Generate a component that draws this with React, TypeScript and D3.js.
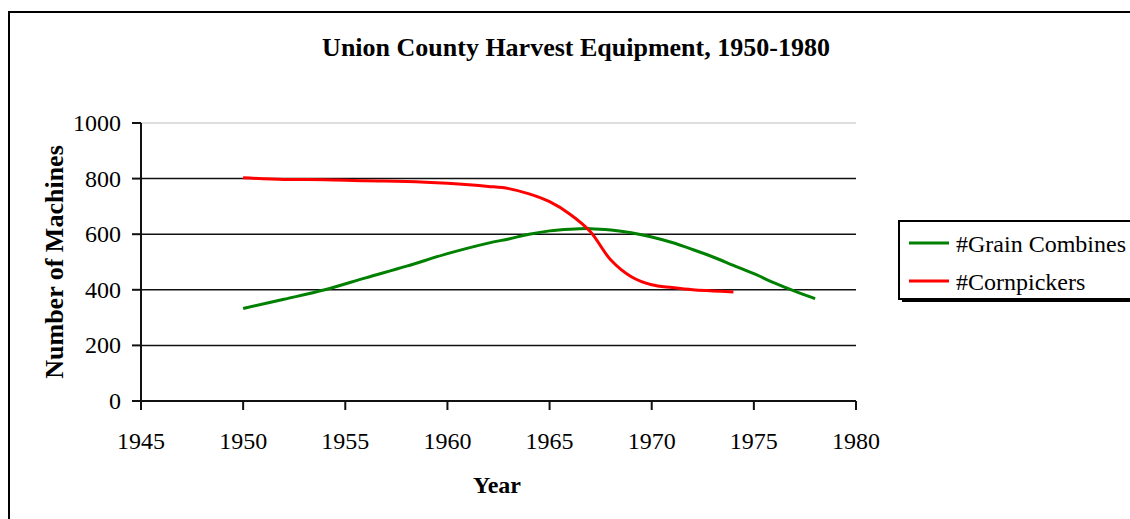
import React from "react";
import * as d3 from "d3";

const combineYears = [1950, 1952, 1954, 1956, 1958, 1960, 1962, 1963, 1964, 1965, 1966, 1967, 1968, 1969, 1970, 1971, 1972, 1973, 1974, 1975, 1976, 1977, 1978];
const combineValues = [333, 366, 400, 443, 485, 530, 568, 583, 600, 612, 618, 620, 615, 605, 590, 570, 545, 518, 488, 458, 425, 395, 368];

const pickerYears = [1950, 1952, 1954, 1956, 1958, 1960, 1962, 1963, 1964, 1965, 1966, 1967, 1968, 1969, 1970, 1971, 1972, 1973, 1974];
const pickerValues = [803, 797, 796, 792, 790, 783, 772, 764, 745, 717, 672, 609, 507, 447, 418, 408, 400, 396, 392];

const xTicks = [1945, 1950, 1955, 1960, 1965, 1970, 1975, 1980];
const yTicks = [0, 200, 400, 600, 800, 1000];

const seriesNames = ["#Grain Combines", "#Cornpickers"];
const seriesColors = ["#008000", "#ff0000"];

const FONT = "'Liberation Serif', 'Times New Roman', serif";

export default function App() {
  const x = d3.scaleLinear().domain([1945, 1980]).range([141, 856]);
  const y = d3.scaleLinear().domain([0, 1000]).range([401, 123]);
  const line = d3
    .line<[number, number]>()
    .x((d) => x(d[0]))
    .y((d) => y(d[1]))
    .curve(d3.curveCatmullRom.alpha(0.5));

  const combineData: [number, number][] = combineYears.map((yr, i) => [yr, combineValues[i]]);
  const pickerData: [number, number][] = pickerYears.map((yr, i) => [yr, pickerValues[i]]);

  return (
    <svg
      width={1130}
      height={519}
      style={{ position: "absolute", left: 0, top: 0, background: "#fff" }}
      fontFamily={FONT}
    >
      <rect x={0} y={0} width={1130} height={519} fill="#fff" />
      {/* outer chart border */}
      <rect x={9} y={12} width={1140} height={530} fill="none" stroke="#000" strokeWidth={2} />

      {/* title */}
      <text x={576} y={56} textAnchor="middle" fontSize={26} fontWeight="bold">
        Union County Harvest Equipment, 1950-1980
      </text>

      {/* gridlines */}
      {yTicks.filter((t) => t > 0).map((t) => (
        <line
          key={t}
          x1={x(1945)}
          x2={x(1980)}
          y1={y(t)}
          y2={y(t)}
          stroke={t === 1000 ? "#bdbdbd" : "#111"}
          strokeWidth={t === 1000 ? 1 : 1.5}
        />
      ))}

      {/* y axis */}
      <line x1={x(1945)} x2={x(1945)} y1={y(1000)} y2={y(0)} stroke="#111" strokeWidth={2} />
      {yTicks.map((t) => (
        <g key={t}>
          <line x1={x(1945) - 9} x2={x(1945)} y1={y(t)} y2={y(t)} stroke="#111" strokeWidth={2} />
          <text x={121} y={y(t) + 8} textAnchor="end" fontSize={24}>
            {t}
          </text>
        </g>
      ))}

      {/* x axis */}
      <line x1={x(1945)} x2={x(1980)} y1={y(0)} y2={y(0)} stroke="#111" strokeWidth={2} />
      {xTicks.map((t) => (
        <g key={t}>
          <line x1={x(t)} x2={x(t)} y1={y(0)} y2={y(0) + 9} stroke="#111" strokeWidth={2} />
          <text x={x(t)} y={449} textAnchor="middle" fontSize={24}>
            {t}
          </text>
        </g>
      ))}

      {/* axis titles */}
      <text x={497} y={493} textAnchor="middle" fontSize={24} fontWeight="bold">
        Year
      </text>
      <text
        transform={`translate(63, 262) rotate(-90)`}
        textAnchor="middle"
        fontSize={26}
        fontWeight="bold"
      >
        Number of Machines
      </text>

      {/* series */}
      <path d={line(combineData) || ""} fill="none" stroke={seriesColors[0]} strokeWidth={3} />
      <path d={line(pickerData) || ""} fill="none" stroke={seriesColors[1]} strokeWidth={3} />

      {/* legend */}
      <rect x={902} y={224} width={240} height={78} fill="#000" />
      <rect x={899} y={221} width={240} height={78} fill="#fff" stroke="#000" strokeWidth={2} />
      {seriesNames.map((name, i) => (
        <g key={name}>
          <line x1={909} x2={949} y1={243 + i * 38} y2={243 + i * 38} stroke={seriesColors[i]} strokeWidth={3} />
          <text x={956} y={252 + i * 38} fontSize={24}>
            {name}
          </text>
        </g>
      ))}
    </svg>
  );
}
